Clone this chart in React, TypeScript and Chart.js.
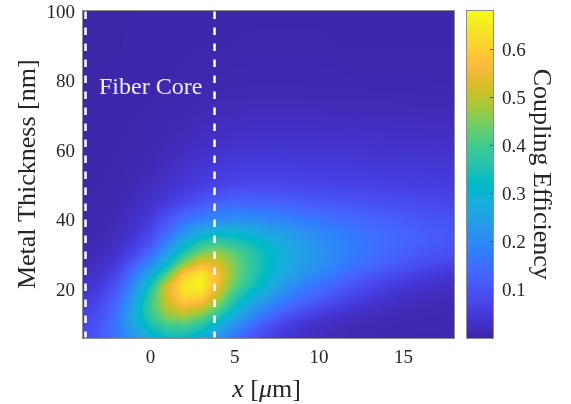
import React, { useEffect, useRef } from "react";
import { Chart, registerables } from "chart.js";

Chart.register(...registerables);

const FONT = "'Liberation Serif', 'Times New Roman', Times, serif";
const TEXT = "#262626";

// ---- grid of the map ----
const xPositions = [-4, -3, -2, -1, 0, 1, 2, 3, 4, 5, 6, 7, 8, 9, 10, 11, 12, 13, 14, 15, 16, 17, 18];
const thicknessLevels = [6, 8, 10, 12, 15, 18, 21, 24, 27, 30, 33, 36, 40, 45, 50, 55, 60, 65, 70, 75, 80, 90, 100];

// coupling efficiency, one row per metal thickness (columns follow xPositions)
const ce_t6 = [0.07, 0.11, 0.16, 0.22, 0.29, 0.33, 0.33, 0.29, 0.22, 0.16, 0.10, 0.065, 0.04, 0.027, 0.019, 0.014, 0.011, 0.009, 0.008, 0.007, 0.006, 0.006, 0.005];
const ce_t8 = [0.072, 0.11, 0.165, 0.24, 0.32, 0.37, 0.37, 0.33, 0.26, 0.19, 0.125, 0.08, 0.05, 0.032, 0.022, 0.016, 0.012, 0.01, 0.009, 0.008, 0.007, 0.007, 0.006];
const ce_t10 = [0.068, 0.105, 0.165, 0.26, 0.35, 0.41, 0.42, 0.38, 0.30, 0.22, 0.155, 0.10, 0.065, 0.042, 0.028, 0.02, 0.015, 0.012, 0.01, 0.009, 0.008, 0.008, 0.007];
const ce_t12 = [0.06, 0.095, 0.155, 0.27, 0.38, 0.46, 0.48, 0.44, 0.36, 0.27, 0.20, 0.14, 0.095, 0.065, 0.045, 0.031, 0.022, 0.016, 0.013, 0.011, 0.01, 0.009, 0.008];
const ce_t15 = [0.05, 0.08, 0.14, 0.26, 0.40, 0.50, 0.56, 0.53, 0.44, 0.33, 0.25, 0.19, 0.145, 0.11, 0.083, 0.062, 0.045, 0.032, 0.023, 0.017, 0.013, 0.011, 0.01];
const ce_t18 = [0.04, 0.065, 0.12, 0.23, 0.38, 0.53, 0.62, 0.62, 0.50, 0.38, 0.30, 0.245, 0.195, 0.155, 0.122, 0.094, 0.071, 0.053, 0.038, 0.028, 0.021, 0.017, 0.014];
const ce_t21 = [0.03, 0.05, 0.095, 0.20, 0.34, 0.52, 0.65, 0.67, 0.55, 0.43, 0.35, 0.29, 0.23, 0.185, 0.155, 0.125, 0.098, 0.077, 0.058, 0.045, 0.035, 0.028, 0.023];
const ce_t24 = [0.02, 0.036, 0.072, 0.16, 0.27, 0.42, 0.60, 0.65, 0.57, 0.45, 0.37, 0.31, 0.265, 0.22, 0.19, 0.16, 0.132, 0.107, 0.087, 0.07, 0.056, 0.046, 0.038];
const ce_t27 = [0.014, 0.025, 0.05, 0.115, 0.20, 0.32, 0.47, 0.56, 0.53, 0.45, 0.38, 0.32, 0.28, 0.245, 0.215, 0.185, 0.16, 0.14, 0.12, 0.103, 0.088, 0.076, 0.066];
const ce_t30 = [0.01, 0.017, 0.034, 0.075, 0.14, 0.25, 0.37, 0.46, 0.48, 0.43, 0.37, 0.32, 0.285, 0.25, 0.22, 0.195, 0.172, 0.152, 0.135, 0.12, 0.106, 0.095, 0.085];
const ce_t33 = [0.008, 0.012, 0.024, 0.052, 0.10, 0.19, 0.29, 0.37, 0.40, 0.37, 0.34, 0.30, 0.27, 0.24, 0.215, 0.193, 0.174, 0.158, 0.143, 0.131, 0.12, 0.11, 0.101];
const ce_t36 = [0.006, 0.009, 0.017, 0.038, 0.075, 0.14, 0.22, 0.28, 0.31, 0.31, 0.29, 0.265, 0.245, 0.22, 0.20, 0.182, 0.166, 0.152, 0.14, 0.13, 0.12, 0.111, 0.104];
const ce_t40 = [0.005, 0.007, 0.012, 0.026, 0.05, 0.10, 0.15, 0.18, 0.20, 0.21, 0.205, 0.195, 0.185, 0.172, 0.16, 0.15, 0.14, 0.131, 0.122, 0.114, 0.107, 0.10, 0.094];
const ce_t45 = [0.004, 0.005, 0.008, 0.016, 0.03, 0.05, 0.075, 0.10, 0.12, 0.13, 0.13, 0.127, 0.121, 0.114, 0.108, 0.103, 0.098, 0.093, 0.088, 0.083, 0.079, 0.075, 0.071];
const ce_t50 = [0.003, 0.004, 0.006, 0.011, 0.018, 0.03, 0.042, 0.055, 0.065, 0.072, 0.075, 0.075, 0.073, 0.07, 0.068, 0.066, 0.064, 0.062, 0.06, 0.058, 0.056, 0.054, 0.052];
const ce_t55 = [0.003, 0.003, 0.005, 0.008, 0.012, 0.02, 0.03, 0.04, 0.048, 0.053, 0.056, 0.056, 0.055, 0.053, 0.052, 0.05, 0.049, 0.048, 0.046, 0.045, 0.044, 0.043, 0.042];
const ce_t60 = [0.002, 0.003, 0.004, 0.006, 0.009, 0.014, 0.02, 0.027, 0.033, 0.037, 0.04, 0.041, 0.041, 0.04, 0.039, 0.038, 0.037, 0.036, 0.035, 0.034, 0.033, 0.032, 0.031];
const ce_t65 = [0.002, 0.002, 0.003, 0.005, 0.007, 0.01, 0.014, 0.019, 0.023, 0.026, 0.028, 0.029, 0.029, 0.028, 0.028, 0.027, 0.026, 0.026, 0.025, 0.024, 0.024, 0.023, 0.022];
const ce_t70 = [0.002, 0.002, 0.003, 0.004, 0.005, 0.007, 0.01, 0.013, 0.016, 0.018, 0.019, 0.02, 0.02, 0.019, 0.019, 0.018, 0.018, 0.017, 0.017, 0.016, 0.016, 0.015, 0.015];
const ce_t75 = [0.001, 0.002, 0.002, 0.003, 0.004, 0.005, 0.007, 0.009, 0.011, 0.012, 0.013, 0.013, 0.013, 0.013, 0.012, 0.012, 0.012, 0.011, 0.011, 0.011, 0.01, 0.01, 0.01];
const ce_t80 = [0.001, 0.001, 0.002, 0.002, 0.003, 0.004, 0.005, 0.006, 0.007, 0.008, 0.008, 0.008, 0.008, 0.008, 0.008, 0.008, 0.007, 0.007, 0.007, 0.007, 0.007, 0.006, 0.006];
const ce_t90 = [0.001, 0.001, 0.001, 0.002, 0.002, 0.003, 0.003, 0.004, 0.004, 0.004, 0.005, 0.005, 0.005, 0.005, 0.005, 0.004, 0.004, 0.004, 0.004, 0.004, 0.004, 0.004, 0.004];
const ce_t100 = [0.001, 0.001, 0.001, 0.001, 0.002, 0.002, 0.002, 0.003, 0.003, 0.003, 0.003, 0.003, 0.003, 0.003, 0.003, 0.003, 0.003, 0.003, 0.003, 0.003, 0.003, 0.003, 0.003];

const efficiencyRows = [
  ce_t6, ce_t8, ce_t10, ce_t12, ce_t15, ce_t18, ce_t21, ce_t24, ce_t27, ce_t30, ce_t33, ce_t36,
  ce_t40, ce_t45, ce_t50, ce_t55, ce_t60, ce_t65, ce_t70, ce_t75, ce_t80, ce_t90, ce_t100,
];

// ---- axes / annotations ----
const xRange = [-4, 18];
const yRange = [6, 100];
const colorRange = [0, 0.68];
const xTicks = [0, 5, 10, 15];
const yTicks = [20, 40, 60, 80, 100];
const colorTicks = [0.1, 0.2, 0.3, 0.4, 0.5, 0.6];
const coreEdges = [-3.85, 3.8];
const coreLabel = "Fiber Core";
const coreLabelAt = { x: -3.05, y: 76.2 };

// MATLAB parula (64 entries)
const PARULA = [
  "#3e26a8", "#402ab4", "#422ec0", "#4332cb", "#4537d5", "#463cde", "#4741e5", "#4747eb",
  "#484df0", "#4852f4", "#4758f8", "#465efb", "#4563fd", "#4269fe", "#3e6fff", "#3875fe",
  "#327cfc", "#2f81fa", "#2e87f7", "#2d8cf3", "#2b91ef", "#2796eb", "#259be8", "#23a0e5",
  "#20a5e3", "#1ca9df", "#18addb", "#12b1d6", "#08b5d0", "#01b8ca", "#02bac3", "#0bbdbd",
  "#19bfb6", "#24c1ae", "#2cc4a7", "#31c69f", "#37c897", "#3fca8e", "#4acb84", "#57cc7a",
  "#64cd6f", "#72cd64", "#81cc59", "#8fcb4e", "#9dc943", "#abc739", "#b9c431", "#c5c22a",
  "#d1bf27", "#dcbd29", "#e6bb2d", "#f0ba36", "#f8ba3d", "#febe3c", "#fec338", "#fec934",
  "#fccf30", "#fad62d", "#f7dc2a", "#f5e327", "#f5e924", "#f6ef20", "#f7f51b", "#f9fb15",
];
const PARULA_RGB = PARULA.map((h) => [
  parseInt(h.slice(1, 3), 16),
  parseInt(h.slice(3, 5), 16),
  parseInt(h.slice(5, 7), 16),
]);

function rgbFor(v: number): number[] {
  let t = (v - colorRange[0]) / (colorRange[1] - colorRange[0]);
  t = Math.max(0, Math.min(1, t));
  const f = t * (PARULA_RGB.length - 1);
  const i = Math.min(PARULA_RGB.length - 2, Math.floor(f));
  const u = f - i;
  const a = PARULA_RGB[i];
  const b = PARULA_RGB[i + 1];
  return [0, 1, 2].map((k) => Math.round(a[k] + (b[k] - a[k]) * u));
}
function colorFor(v: number): string {
  const c = rgbFor(v);
  return `rgb(${c[0]},${c[1]},${c[2]})`;
}

// locate a value between grid nodes -> [index, fraction]
function locate(nodes: number[], v: number): [number, number] {
  if (v <= nodes[0]) return [0, 0];
  const n = nodes.length;
  if (v >= nodes[n - 1]) return [n - 2, 1];
  let i = 0;
  while (i < n - 2 && v > nodes[i + 1]) i++;
  return [i, (v - nodes[i]) / (nodes[i + 1] - nodes[i])];
}

// interpolated shading of the measured grid (like MATLAB "shading interp")
const surfacePlugin = {
  id: "surfaceShading",
  beforeDatasetsDraw(chart: any) {
    const { ctx, chartArea, scales } = chart;
    const xs = scales.x;
    const ys = scales.y;
    const L = Math.round(chartArea.left);
    const T = Math.round(chartArea.top);
    const W = Math.round(chartArea.right) - L;
    const H = Math.round(chartArea.bottom) - T;
    const img = ctx.createImageData(W, H);
    const colLoc = [];
    for (let i = 0; i < W; i++) colLoc.push(locate(xPositions, xs.getValueForPixel(L + i + 0.5)));
    for (let j = 0; j < H; j++) {
      const [r, fy] = locate(thicknessLevels, ys.getValueForPixel(T + j + 0.5));
      const row0 = efficiencyRows[r];
      const row1 = efficiencyRows[r + 1];
      for (let i = 0; i < W; i++) {
        const [c, fx] = colLoc[i];
        const v0 = row0[c] * (1 - fx) + row0[c + 1] * fx;
        const v1 = row1[c] * (1 - fx) + row1[c + 1] * fx;
        const rgb = rgbFor(v0 * (1 - fy) + v1 * fy);
        const k = (j * W + i) * 4;
        img.data[k] = rgb[0];
        img.data[k + 1] = rgb[1];
        img.data[k + 2] = rgb[2];
        img.data[k + 3] = 255;
      }
    }
    ctx.putImageData(img, L, T);
  },
};

const decorPlugin = {
  id: "decor",
  afterDraw(chart: any) {
    const { ctx, chartArea, scales } = chart;
    const xs = scales.x;
    const ys = scales.y;
    const cb = scales.cb;
    const { left, right, top, bottom } = chartArea;

    // fiber core edges
    ctx.save();
    ctx.strokeStyle = "#ffffff";
    ctx.lineWidth = 2.5;
    ctx.setLineDash([7.5, 8.5]);
    ctx.lineDashOffset = 1.5;
    coreEdges.forEach((xv) => {
      const px = xs.getPixelForValue(xv);
      ctx.beginPath();
      ctx.moveTo(px, bottom);
      ctx.lineTo(px, top);
      ctx.stroke();
    });
    ctx.restore();

    // label
    ctx.save();
    ctx.fillStyle = "#eeeefa";
    ctx.font = `24px ${FONT}`;
    ctx.textAlign = "left";
    ctx.textBaseline = "alphabetic";
    ctx.fillText(coreLabel, xs.getPixelForValue(coreLabelAt.x), ys.getPixelForValue(coreLabelAt.y));
    ctx.restore();

    // axes box
    ctx.save();
    ctx.strokeStyle = "#8c8c8c";
    ctx.lineWidth = 1;
    ctx.strokeRect(Math.round(left) - 0.5, Math.round(top) - 0.5, Math.round(right - left) + 1, Math.round(bottom - top) + 1);
    ctx.restore();

    // colorbar
    const cbL = right + 13;
    const cbR = right + 39;
    const cbTop = cb.getPixelForValue(colorRange[1]);
    const cbBot = cb.getPixelForValue(colorRange[0]);
    ctx.save();
    for (let py = Math.floor(cbTop); py < Math.ceil(cbBot); py++) {
      const v = cb.getValueForPixel(py + 0.5);
      ctx.fillStyle = colorFor(v);
      ctx.fillRect(cbL, py, cbR - cbL, 1);
    }
    ctx.strokeStyle = "#8c8c8c";
    ctx.lineWidth = 1;
    ctx.strokeRect(Math.round(cbL) - 0.5, Math.round(cbTop) - 0.5, Math.round(cbR - cbL) + 1, Math.round(cbBot - cbTop) + 1);
    ctx.strokeStyle = "#555555";
    colorTicks.forEach((t) => {
      const py = Math.round(cb.getPixelForValue(t)) + 0.5;
      ctx.beginPath();
      ctx.moveTo(cbR - 3, py);
      ctx.lineTo(cbR, py);
      ctx.stroke();
    });
    ctx.restore();

    // x-axis title with italic symbols
    const parts = [
      { t: "x", it: true },
      { t: " [", it: false },
      { t: "\u03bc", it: true },
      { t: "m]", it: false },
    ];
    ctx.save();
    ctx.fillStyle = TEXT;
    ctx.textBaseline = "alphabetic";
    ctx.textAlign = "left";
    const widths = parts.map((p) => {
      ctx.font = `${p.it ? "italic " : ""}26px ${FONT}`;
      return ctx.measureText(p.t).width;
    });
    const total = widths.reduce((a, b) => a + b, 0);
    let cx = (left + right) / 2 - total / 2 - 2;
    const by = xs.bottom - 7;
    parts.forEach((p, i) => {
      ctx.font = `${p.it ? "italic " : ""}26px ${FONT}`;
      ctx.fillText(p.t, cx, by);
      cx += widths[i];
    });
    ctx.restore();
  },
};

const noPad = (s: any) => {
  s.paddingTop = 0;
  s.paddingBottom = 0;
  s.paddingLeft = 0;
  s.paddingRight = 0;
};

export default function App() {
  const ref = useRef<HTMLCanvasElement | null>(null);

  useEffect(() => {
    if (!ref.current) return;
    const points: any[] = [];
    thicknessLevels.forEach((t, r) =>
      xPositions.forEach((x, c) => points.push({ x, y: t, v: efficiencyRows[r][c] }))
    );
    const tickFont = { family: FONT, size: 19, lineHeight: 1 };
    const chart = new Chart(ref.current, {
      type: "scatter",
      data: {
        datasets: [
          {
            label: "Coupling Efficiency",
            data: points,
            pointRadius: 0,
            pointHoverRadius: 0,
            xAxisID: "x",
            yAxisID: "y",
          },
        ],
      },
      options: {
        responsive: false,
        maintainAspectRatio: false,
        devicePixelRatio: 1,
        animation: false,
        events: [],
        layout: { padding: { top: 11, left: 0, right: 0, bottom: 0 } },
        plugins: { legend: { display: false }, tooltip: { enabled: false } },
        scales: {
          x: {
            type: "linear",
            position: "bottom",
            min: xRange[0],
            max: xRange[1],
            grid: { display: false, drawTicks: false },
            border: { display: false },
            ticks: { font: tickFont, color: TEXT, padding: 11, maxRotation: 0, autoSkip: false },
            afterBuildTicks: (s: any) => {
              s.ticks = xTicks.map((value) => ({ value }));
            },
            afterFit: (s: any) => {
              s.height = 66.5;
              noPad(s);
            },
          },
          y: {
            type: "linear",
            position: "left",
            min: yRange[0],
            max: yRange[1],
            grid: { display: false, drawTicks: false },
            border: { display: false },
            ticks: { font: tickFont, color: TEXT, padding: 8, labelOffset: 2 },
            afterBuildTicks: (s: any) => {
              s.ticks = yTicks.map((value) => ({ value }));
            },
            afterFit: (s: any) => {
              s.width = 83;
              noPad(s);
            },
            title: {
              display: true,
              text: "Metal Thickness [nm]",
              color: TEXT,
              font: { family: FONT, size: 26, lineHeight: 1.2 },
              padding: { top: 12.5, bottom: 0 },
            },
          },
          cb: {
            type: "linear",
            position: "right",
            min: colorRange[0],
            max: colorRange[1],
            grid: { display: false, drawTicks: false },
            border: { display: false },
            ticks: {
              font: tickFont,
              color: TEXT,
              padding: 48,
              labelOffset: 2,
              callback: (v: any) => Number(v).toFixed(1),
            },
            afterBuildTicks: (s: any) => {
              s.ticks = colorTicks.map((value) => ({ value }));
            },
            afterFit: (s: any) => {
              s.width = 117;
              noPad(s);
            },
            title: {
              display: true,
              text: "Coupling Efficiency",
              color: TEXT,
              font: { family: FONT, size: 26, lineHeight: 1.2 },
              padding: { top: 15, bottom: 0 },
            },
          },
        },
      },
      plugins: [surfacePlugin, decorPlugin],
    } as any);
    return () => chart.destroy();
  }, []);

  return (
    <div style={{ position: "absolute", left: 0, top: 0, width: 571, height: 404, background: "#ffffff" }}>
      <canvas ref={ref} width={571} height={404} style={{ display: "block" }} />
    </div>
  );
}
